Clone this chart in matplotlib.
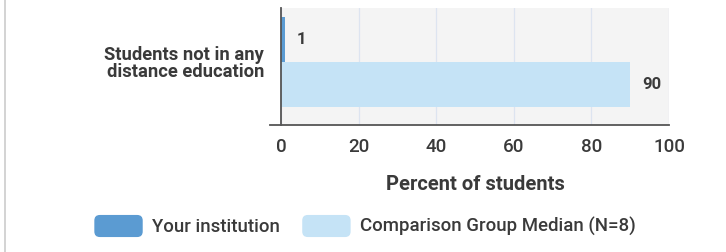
import matplotlib
matplotlib.use("Agg")
import matplotlib.pyplot as plt
from matplotlib.patches import Patch, FancyBboxPatch
from matplotlib.legend_handler import HandlerPatch
from matplotlib.lines import Line2D

# data
category = "Students not in any\ndistance education"
series_names = ["Your institution", "Comparison Group Median (N=8)"]
series_values = [1, 90]
series_colors = ["#5b9bd2", "#c5e3f6"]
xticks = [0, 20, 40, 60, 80, 100]
xlabel = "Percent of students"

plt.rcParams['font.family'] = ['Roboto', 'DejaVu Sans']
txt = "#3a3a3a"

fig = plt.figure(figsize=(7.26, 2.52), dpi=100)
ax = fig.add_axes([281 / 726, 1 - 125 / 252, 388 / 726, 117 / 252])
ax.set_facecolor("#f4f4f4")

h = 45 / 117
offsets = [-h / 2, h / 2]
for name, v, c, off in zip(series_names, series_values, series_colors, offsets):
    ax.barh(off, v, height=h, color=c, label=name, zorder=2)
    ax.text(v + 3.0, off, str(v), va="center", ha="left", fontsize=12,
            fontweight="bold", color=txt)

ax.set_xlim(0, 100)
ax.set_ylim(125 / 117 - 62 / 117, -(62 - 8) / 117)
ax.set_yticks([0])
ax.set_yticklabels([category], fontsize=13.2, fontweight="bold", color=txt,
                   linespacing=0.92)
ax.set_xticks(xticks)
ax.set_xticklabels([str(t) for t in xticks], fontsize=13.5, fontweight="medium", color=txt)
ax.tick_params(axis="y", length=0, pad=12)
ax.tick_params(axis="x", length=0, pad=9)
ax.set_xlabel(xlabel, fontsize=14.5, fontweight="bold", color=txt, labelpad=14)

ax.grid(axis="x", color="#dde4f0", linewidth=0.9, zorder=1)
for s in ["top", "right", "bottom"]:
    ax.spines[s].set_visible(False)
ax.spines["left"].set_color("#555555")
ax.spines["left"].set_linewidth(1.3)
ax.spines["left"].set_zorder(3)
ax.add_line(Line2D([-0.028, 1.0], [0, 0], transform=ax.transAxes,
                   color="#555555", linewidth=1.3, clip_on=False, zorder=3))

# page border line at left
fig.add_artist(Line2D([5 / 726, 5 / 726], [0, 1], transform=fig.transFigure,
                      color="#cccccc", linewidth=1.2))


def rounded(legend, orig_handle, xdescent, ydescent, width, height, fontsize):
    return FancyBboxPatch((-xdescent, -ydescent), width, height,
                          boxstyle="round,pad=0,rounding_size=4")


handles = [Patch(facecolor=c, edgecolor="none") for c in series_colors]
fig.legend(handles, series_names, loc="center", bbox_to_anchor=(365 / 726, 1 - 226 / 252),
           ncol=2, frameon=False, handlelength=2.6, handleheight=1.45,
           handletextpad=0.5, columnspacing=1.2, borderpad=0,
           prop={"size": 13.4, "weight": "medium"}, labelcolor=txt,
           handler_map={Patch: HandlerPatch(patch_func=rounded)})

fig.savefig("out.png", dpi=100)
